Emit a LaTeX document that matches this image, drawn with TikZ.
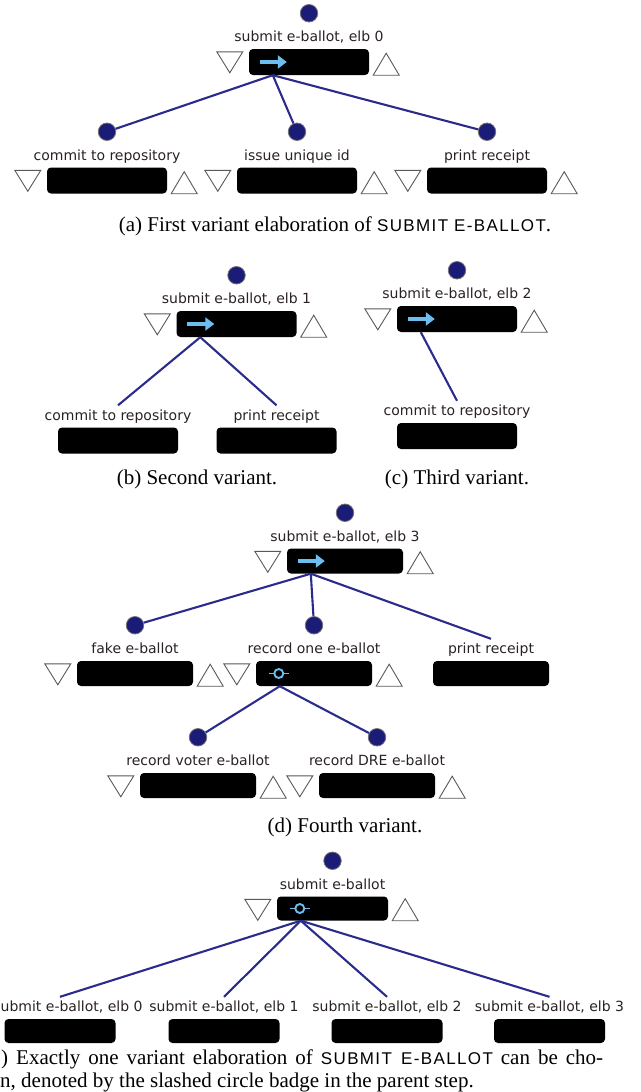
\documentclass[tikz,border=0pt]{standalone}
\usepackage{fontspec}
\setmainfont{Liberation Serif}
\newfontfamily\stepfont{DejaVu Sans}
\newfontfamily\capsfont[LetterSpace=8]{Liberation Sans}
\usetikzlibrary{positioning,arrows.meta}

\definecolor{dotblue}{HTML}{1B1B78}
\definecolor{linkblue}{HTML}{2B2B8C}
\definecolor{badgeblue}{HTML}{6CBDF0}
\definecolor{labeltext}{HTML}{2A2222}

\newcommand{\capsc}[1]{{\capsfont\fontsize{17}{19}\selectfont #1}}

\tikzset{
  bar/.style={fill=black, rounded corners=4pt, minimum width=120pt, minimum height=26pt, inner sep=0pt},
  steplabel/.style={font=\stepfont\fontsize{14}{16}\selectfont, text=labeltext, inner sep=0pt, text height=10pt, text depth=3pt},
  stepdot/.style={circle, fill=dotblue, draw=black!55, line width=0.8pt, minimum size=17.5pt, inner sep=0pt},
  tri/.style={draw=black!65, line width=0.9pt},
  link/.style={draw=linkblue, line width=2.1pt},
  arrowbadge/.style={draw=badgeblue, line width=4pt, -{Triangle[length=9pt,width=13pt]}},
  orbadge/.style={draw=badgeblue, line width=1.9pt},
  caption/.style={font=\fontsize{21}{25}\selectfont, inner sep=0pt, anchor=base},
}

% step with dot and up/down triangles
\newcommand{\treestep}[4]{%
  \node[bar] (#1) at (#2,#3) {};
  \node[steplabel, above=4pt of #1] (#1l) {#4};
  \node[stepdot, above=9pt of #1l] (#1-dot) {};
  \draw[tri] (#1.north west) ++(-6,3) -- ++(-26,0) -- ++(13,21) -- cycle;
  \draw[tri] (#1.south east) ++(4,0) -- ++(26,0) -- ++(-13,-22) -- cycle;
  \coordinate (#1-out) at ([xshift=24pt]#1.south west);
}
% plain step, no dot, no triangles
\newcommand{\leafstep}[4]{%
  \node[bar] (#1) at (#2,#3) {};
  \node[steplabel, above=4pt of #1] (#1l) {#4};
  \coordinate (#1-in) at ([yshift=22pt]#1.north);
}
\newcommand{\seqbadge}[1]{\draw[arrowbadge] ([xshift=11pt]#1.west) -- ([xshift=38pt]#1.west);}
\newcommand{\orbadge}[1]{%
  \draw[orbadge] ([xshift=13pt]#1.west) -- ([xshift=33pt]#1.west);
  \draw[orbadge, fill=black] ([xshift=23pt]#1.west) circle (4.5pt);
}

\begin{document}
\begin{tikzpicture}[x=1pt,y=-1pt]
\useasboundingbox (0,0) rectangle (640,1092);

% (a) first variant
\treestep{a}{309}{62}{submit e-ballot, elb 0}
\seqbadge{a}
\treestep{a1}{107}{180.5}{commit to repository}
\treestep{a2}{297}{180.5}{issue unique id}
\treestep{a3}{487}{180.5}{print receipt}
\foreach \kid in {a1,a2,a3}
    \draw[link] (a-out) -- (\kid-dot);
\node[caption] (capa) at (335,231) {(a) First variant elaboration of \capsc{SUBMIT E-BALLOT}.};

% (b) second variant
\treestep{b}{236.5}{324}{submit e-ballot, elb 1}
\seqbadge{b}
\leafstep{b1}{118}{440.5}{commit to repository}
\leafstep{b2}{276.5}{440.5}{print receipt}
\foreach \kid in {b1,b2}
    \draw[link] (b-out) -- (\kid-in);
\node[caption] (capb) at (197,484) {(b) Second variant.};

% (c) third variant
\treestep{c}{457}{319}{submit e-ballot, elb 2}
\seqbadge{c}
\leafstep{c1}{457}{436}{commit to repository}
\draw[link] (c-out) -- (c1-in);
\node[caption] (capc) at (457,484) {(c) Third variant.};

% (d) fourth variant
\begin{scope}[bar/.append style={minimum width=116pt, minimum height=25pt}]
\treestep{d}{345}{561}{submit e-ballot, elb 3}
\seqbadge{d}
\treestep{d1}{135}{673.5}{fake e-ballot}
\treestep{d2}{314}{673.5}{record one e-ballot}
\orbadge{d2}
\leafstep{d3}{491}{673.5}{print receipt}
\treestep{d21}{198}{785.5}{record voter e-ballot}
\treestep{d22}{377}{785.5}{record DRE e-ballot}
\draw[link] (d-out) -- (d1-dot);
\draw[link] (d-out) -- (d2-dot);
\draw[link] (d-out) -- (d3-in);
\draw[link] (d2-out) -- (d21-dot);
\draw[link] (d2-out) -- (d22-dot);
\end{scope}
\node[caption] (capd) at (345,832) {(d) Fourth variant.};

% (e) choice between the variants
\begin{scope}[bar/.append style={minimum width=111pt, minimum height=24pt}]
\treestep{e}{332.5}{908.5}{submit e-ballot}
\orbadge{e}
\node[bar] (e0) at (60,1031) {};
\path (e0.north) ++(0,-4) coordinate (e0top);
\node[steplabel, anchor=south west] (e0l) at (e0top -| 0.5,0) {ubmit e-ballot, elb 0};
\coordinate (e0-in) at ([yshift=22pt]e0.north);
\leafstep{e1}{224}{1031}{submit e-ballot, elb 1}
\leafstep{e2}{387}{1031}{submit e-ballot, elb 2}
\leafstep{e3}{549.5}{1031}{submit e-ballot, elb 3}
\foreach \kid in {e0,e1,e2,e3}
    \draw[link] (e-out) -- (\kid-in);
\end{scope}
\node[caption, anchor=base west] (cape1) at (1,1064) {\hbox to 602pt{) Exactly one variant elaboration of \capsc{SUBMIT E-BALLOT} can be cho-}};
\node[caption, anchor=base west] (cape2) at (0,1087) {n, denoted by the slashed circle badge in the parent step.};
\end{tikzpicture}
\end{document}
